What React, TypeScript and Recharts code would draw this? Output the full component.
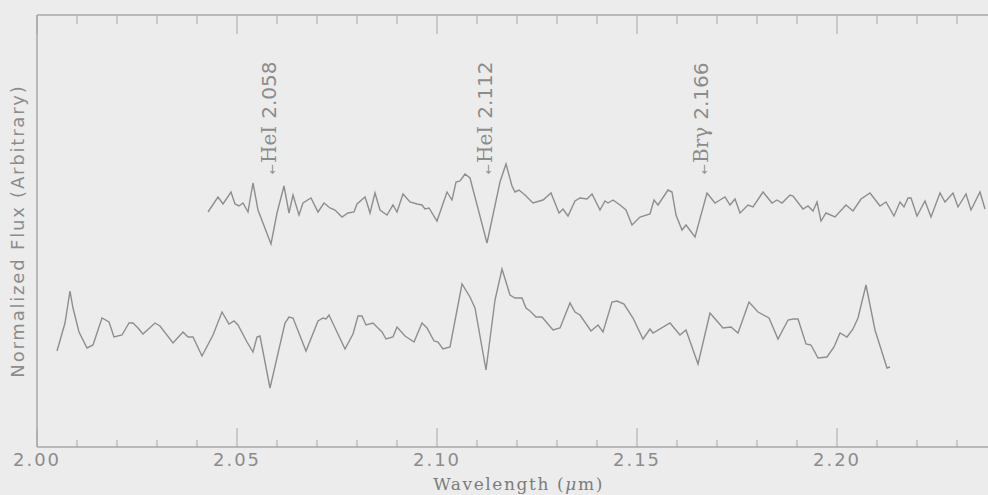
import { LineChart, Line, XAxis, YAxis, ReferenceLine } from 'recharts';

// wavelength (um) / normalized flux (arbitrary units)
const upperWave = [
  2.04275, 2.04525, 2.0465, 2.0485, 2.0495, 2.0505, 2.0515, 2.05275, 2.05325, 2.054,
  2.05525, 2.0585, 2.06, 2.06175, 2.063, 2.064, 2.0655, 2.0665, 2.0685, 2.07025,
  2.07175, 2.07325, 2.0745, 2.07625, 2.07775, 2.07925, 2.08, 2.082, 2.0825, 2.08325,
  2.0845, 2.08575, 2.0875, 2.089, 2.09, 2.0915, 2.09325, 2.095, 2.09625, 2.097,
  2.098, 2.1, 2.1025, 2.10375, 2.10475, 2.10575, 2.107, 2.10825, 2.1125, 2.11575,
  2.11725, 2.11875, 2.1195, 2.1205, 2.122, 2.124, 2.1265, 2.1285, 2.1305, 2.1315,
  2.13275, 2.1345, 2.13575, 2.1375, 2.13875, 2.14075, 2.142, 2.14275, 2.144, 2.14575,
  2.14725, 2.14875, 2.15075, 2.15325, 2.15425, 2.15525, 2.15775, 2.15875, 2.15975, 2.16125,
  2.16225, 2.1645, 2.1675, 2.1695, 2.17075, 2.172, 2.17325, 2.1745, 2.17575, 2.17775,
  2.179, 2.1815, 2.18375, 2.185, 2.18625, 2.18825, 2.189, 2.1915, 2.19275, 2.194,
  2.195, 2.196, 2.19725, 2.1995, 2.20225, 2.204, 2.206, 2.20825, 2.21075, 2.21225,
  2.21425, 2.21575, 2.21675, 2.21775, 2.2185, 2.22, 2.222, 2.2235, 2.22575, 2.227,
  2.229, 2.23025, 2.23225, 2.2335, 2.23575, 2.237,
];
const upperFlux = [
  2.35, 2.5, 2.43, 2.55, 2.43, 2.41, 2.44, 2.35, 2.47, 2.64,
  2.37, 2.03, 2.34, 2.61, 2.34, 2.52, 2.32, 2.44, 2.49, 2.35,
  2.44, 2.39, 2.37, 2.3, 2.34, 2.35, 2.43, 2.5, 2.44, 2.34,
  2.54, 2.37, 2.32, 2.42, 2.35, 2.53, 2.45, 2.43, 2.42, 2.38,
  2.39, 2.26, 2.55, 2.47, 2.65, 2.66, 2.73, 2.69, 2.04, 2.65,
  2.83, 2.61, 2.55, 2.57, 2.52, 2.44, 2.47, 2.54, 2.34, 2.38,
  2.31, 2.46, 2.49, 2.48, 2.53, 2.37, 2.46, 2.44, 2.47, 2.42,
  2.37, 2.22, 2.3, 2.33, 2.47, 2.42, 2.57, 2.55, 2.32, 2.17,
  2.22, 2.1, 2.54, 2.44, 2.47, 2.5, 2.42, 2.48, 2.34, 2.42,
  2.4, 2.55, 2.44, 2.47, 2.44, 2.52, 2.51, 2.38, 2.41, 2.36,
  2.45, 2.26, 2.34, 2.3, 2.42, 2.36, 2.48, 2.54, 2.41, 2.45,
  2.31, 2.45, 2.4, 2.49, 2.49, 2.31, 2.46, 2.3, 2.54, 2.45,
  2.54, 2.4, 2.53, 2.37, 2.55, 2.38,
];

const lowerWave = [
  2.005, 2.007, 2.00825, 2.009, 2.0105, 2.0125, 2.014, 2.01625, 2.018, 2.01925,
  2.02125, 2.023, 2.024, 2.02525, 2.0265, 2.0295, 2.03075, 2.034, 2.0365, 2.03775,
  2.039, 2.04125, 2.044, 2.04625, 2.048, 2.04925, 2.05025, 2.0525, 2.054, 2.055,
  2.05575, 2.05825, 2.062, 2.063, 2.064, 2.06725, 2.07025, 2.0715, 2.07225, 2.073,
  2.075, 2.077, 2.079, 2.08025, 2.08125, 2.08225, 2.084, 2.08525, 2.08625, 2.08725,
  2.089, 2.09, 2.092, 2.09425, 2.09625, 2.0975, 2.09925, 2.10025, 2.1015, 2.10325,
  2.10625, 2.10825, 2.1095, 2.11225, 2.1145, 2.11625, 2.11825, 2.1195, 2.12125, 2.12225,
  2.12325, 2.12475, 2.12625, 2.129, 2.13075, 2.13325, 2.1345, 2.13575, 2.1385, 2.14025,
  2.1415, 2.14375, 2.145, 2.14675, 2.149, 2.1515, 2.15325, 2.154, 2.15825, 2.16075,
  2.16225, 2.16525, 2.16825, 2.1715, 2.1735, 2.17525, 2.178, 2.18025, 2.183, 2.18525,
  2.18775, 2.189, 2.19025, 2.19225, 2.1935, 2.19525, 2.1975, 2.19925, 2.20075, 2.2025,
  2.204, 2.20525, 2.20725, 2.2095, 2.2125, 2.21325,
];
const lowerFlux = [
  0.96, 1.24, 1.56, 1.39, 1.15, 0.99, 1.02, 1.29, 1.25, 1.1,
  1.12, 1.24, 1.24, 1.19, 1.13, 1.24, 1.21, 1.04, 1.15, 1.1,
  1.1, 0.91, 1.12, 1.35, 1.23, 1.26, 1.22, 1.05, 0.95, 1.1,
  1.11, 0.59, 1.24, 1.3, 1.29, 0.96, 1.26, 1.29, 1.28, 1.32,
  1.15, 0.98, 1.13, 1.31, 1.31, 1.22, 1.24, 1.19, 1.15, 1.08,
  1.1, 1.2, 1.11, 1.05, 1.24, 1.19, 1.06, 1.05, 0.98, 1.0,
  1.63, 1.5, 1.39, 0.77, 1.47, 1.78, 1.52, 1.49, 1.49, 1.39,
  1.36, 1.3, 1.3, 1.17, 1.19, 1.44, 1.35, 1.32, 1.16, 1.22,
  1.15, 1.45, 1.46, 1.43, 1.29, 1.08, 1.18, 1.14, 1.24, 1.12,
  1.17, 0.83, 1.34, 1.19, 1.2, 1.14, 1.45, 1.35, 1.29, 1.08,
  1.27, 1.28, 1.28, 1.03, 1.02, 0.89, 0.9, 1.0, 1.14, 1.1,
  1.18, 1.29, 1.62, 1.17, 0.79, 0.8,
];

const majorTicks = [2.0, 2.05, 2.1, 2.15, 2.2];
const minorTicks = [
  2.01, 2.02, 2.03, 2.04, 2.06, 2.07, 2.08, 2.09, 2.11, 2.12,
  2.13, 2.14, 2.16, 2.17, 2.18, 2.19, 2.21, 2.22, 2.23,
];

const lineMarks = [
  { wave: 2.058, ion: 'HeI', label: '2.058' },
  { wave: 2.112, ion: 'HeI', label: '2.112' },
  { wave: 2.166, ion: 'Brγ', label: '2.166' },
];

const upper = upperWave.map((w, i) => ({ w, f: upperFlux[i] }));
const lower = lowerWave.map((w, i) => ({ w, f: lowerFlux[i] }));

const X_MIN = 2.0;
const X_MAX = 2.23775;
const Y_MAX = 4.32;

const frameColor = '#a8a8a8';
const inkColor = '#8e8e8e';
const textColor = '#8c8c8c';

const SpectralTag = ({ viewBox, ion, label }: any) => {
  const x = viewBox.x;
  const y = 174;
  return (
    <text
      x={x}
      y={y}
      dy="0.35em"
      transform={`rotate(-90 ${x} ${y})`}
      fill={textColor}
      fontSize={20}
    >
      <tspan fontSize={12} fontFamily="DejaVu Sans">←</tspan>
      <tspan fontFamily="DejaVu Serif" dx={1}>{ion}</tspan>
      <tspan fontFamily="DejaVu Sans" dx={7}>{label}</tspan>
    </text>
  );
};

const YTitle = ({ viewBox }: any) => {
  const x = viewBox.x - 19;
  const y = viewBox.y + viewBox.height / 2;
  return (
    <text
      x={x}
      y={y}
      dy="0.35em"
      textAnchor="middle"
      transform={`rotate(-90 ${x} ${y})`}
      fill={textColor}
      fontSize={18}
      fontFamily="DejaVu Sans"
      letterSpacing={1.8}
    >
      Normalized Flux (Arbitrary)
    </text>
  );
};

const XTitle = ({ viewBox }: any) => (
  <text
    x={viewBox.x + viewBox.width / 2 + 6}
    y={viewBox.y + 43}
    textAnchor="middle"
    fill="#7c7c7c"
    fontSize={17}
    fontFamily="DejaVu Serif"
    letterSpacing={1.6}
  >
    Wavelength (<tspan fontStyle="italic">μ</tspan>m)
  </text>
);

export default function App() {
  return (
    <div style={{ position: 'absolute', left: 0, top: 0, width: 988, height: 495, background: '#ececec' }}>
      <LineChart width={988} height={495} margin={{ top: 15, right: 0, bottom: 0, left: 37 }}>
        <XAxis
          type="number"
          dataKey="w"
          domain={[X_MIN, X_MAX]}
          allowDataOverflow
          ticks={majorTicks}
          interval={0}
          tickFormatter={(v: number) => v.toFixed(2)}
          tick={{ fill: textColor, fontSize: 18, fontFamily: 'DejaVu Sans', letterSpacing: 2 }}
          tickLine={false}
          tickSize={0}
          tickMargin={6}
          axisLine={{ stroke: frameColor, strokeWidth: 1.5 }}
          height={48}
          label={<XTitle />}
        />
        <YAxis type="number" dataKey="f" domain={[0, Y_MAX]} allowDataOverflow hide />

        <ReferenceLine x={X_MIN} stroke={frameColor} strokeWidth={1.5} ifOverflow="visible" label={<YTitle />} />
        <ReferenceLine y={Y_MAX} stroke={frameColor} strokeWidth={1.5} ifOverflow="visible" />

        {majorTicks.map((t) => (
          <ReferenceLine key={`bM${t}`} segment={[{ x: t, y: 0 }, { x: t, y: 0.19 }]} stroke={frameColor} ifOverflow="visible" />
        ))}
        {majorTicks.map((t) => (
          <ReferenceLine key={`tM${t}`} segment={[{ x: t, y: Y_MAX }, { x: t, y: Y_MAX - 0.19 }]} stroke={frameColor} ifOverflow="visible" />
        ))}
        {minorTicks.map((t) => (
          <ReferenceLine key={`bm${t}`} segment={[{ x: t, y: 0 }, { x: t, y: 0.07 }]} stroke={frameColor} ifOverflow="visible" />
        ))}
        {minorTicks.map((t) => (
          <ReferenceLine key={`tm${t}`} segment={[{ x: t, y: Y_MAX }, { x: t, y: Y_MAX - 0.09 }]} stroke={frameColor} ifOverflow="visible" />
        ))}

        {lineMarks.map((m) => (
          <ReferenceLine
            key={m.label}
            x={m.wave}
            stroke="none"
            label={<SpectralTag ion={m.ion} label={m.label} />}
          />
        ))}

        <Line data={upper} dataKey="f" type="linear" stroke={inkColor} strokeWidth={1.4} dot={false} isAnimationActive={false} />
        <Line data={lower} dataKey="f" type="linear" stroke={inkColor} strokeWidth={1.4} dot={false} isAnimationActive={false} />
      </LineChart>
    </div>
  );
}
